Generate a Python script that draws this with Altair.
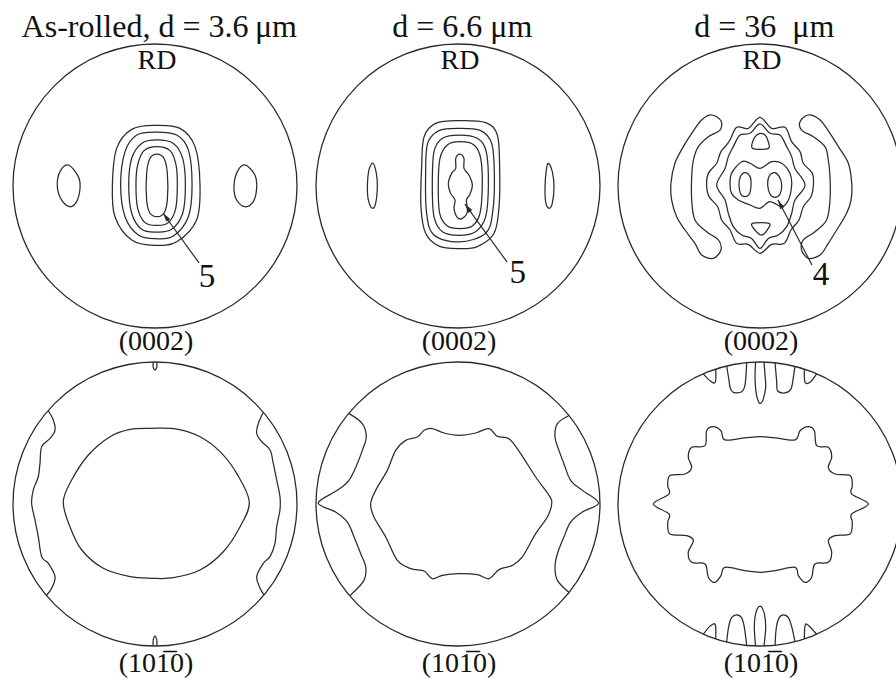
import math
import altair as alt
import pandas as pd

# ---------- canvas layout (pixels) ----------
WIDTH, HEIGHT = 896, 679
RADIUS = 142                    # radius of every pole figure
COL_CENTER = [155, 458, 760]    # circle centres, x
ROW_CENTER = [186, 504]         # circle centres, y measured from the top
INK = "#2b2b2b"
SERIF = "Liberation Serif"

# ---------- iso-intensity lines, unit-circle coordinates (u to the right, v towards RD) ----------
# (0002), as-rolled
P1_RING1 = [(0.000, 0.427), (0.176, 0.406), (0.282, 0.277), (0.317, 0.007), (0.293, -0.239), (0.153, -0.392),
            (0.000, -0.418), (-0.164, -0.380), (-0.282, -0.216), (-0.300, 0.007), (-0.270, 0.265), (-0.164, 0.399)]
P1_RING2 = [(0.007, 0.380), (0.153, 0.359), (0.235, 0.254), (0.261, 0.007), (0.235, -0.216), (0.129, -0.352),
            (0.007, -0.371), (-0.117, -0.345), (-0.211, -0.216), (-0.242, 0.007), (-0.211, 0.242), (-0.129, 0.359)]
P1_RING3 = [(0.012, 0.324), (0.129, 0.300), (0.195, 0.195), (0.214, 0.007), (0.195, -0.192), (0.117, -0.305),
            (0.012, -0.324), (-0.094, -0.305), (-0.164, -0.192), (-0.185, 0.007), (-0.164, 0.195), (-0.094, 0.300)]
P1_RING4 = [(0.012, 0.277), (0.106, 0.249), (0.148, 0.148), (0.157, 0.007), (0.146, -0.157), (0.094, -0.258),
            (0.012, -0.277), (-0.070, -0.258), (-0.122, -0.157), (-0.134, 0.007), (-0.122, 0.148), (-0.077, 0.249)]
P1_CORE = [(0.012, 0.225), (0.063, 0.195), (0.087, 0.089), (0.087, -0.099), (0.063, -0.192), (0.016, -0.216),
           (-0.035, -0.192), (-0.059, -0.099), (-0.059, 0.089), (-0.035, 0.195)]
P1_LEFT = [(-0.610, 0.148), (-0.540, 0.066), (-0.528, -0.016), (-0.552, -0.110), (-0.599, -0.146),
           (-0.657, -0.099), (-0.688, -0.005), (-0.669, 0.101)]
P1_RIGHT = [(0.634, 0.148), (0.704, 0.077), (0.716, -0.016), (0.692, -0.110), (0.634, -0.146),
            (0.575, -0.099), (0.556, -0.005), (0.580, 0.101)]

# (0002), d = 6.6 um
P2_RING1 = [(0.007, 0.460), (0.195, 0.446), (0.277, 0.359), (0.293, 0.136), (0.289, -0.146), (0.254, -0.333),
            (0.136, -0.427), (0.007, -0.441), (-0.134, -0.423), (-0.228, -0.333), (-0.261, -0.146),
            (-0.256, 0.136), (-0.239, 0.347), (-0.157, 0.441)]
P2_RING2 = [(0.007, 0.406), (0.160, 0.390), (0.237, 0.300), (0.256, 0.089), (0.246, -0.169), (0.195, -0.333),
            (0.007, -0.394), (-0.169, -0.345), (-0.221, -0.192), (-0.228, 0.089), (-0.214, 0.300), (-0.134, 0.390)]
P2_RING3 = [(0.007, 0.359), (0.136, 0.336), (0.199, 0.242), (0.214, 0.007), (0.195, -0.216), (0.124, -0.322),
            (0.007, -0.347), (-0.110, -0.322), (-0.169, -0.216), (-0.181, 0.007), (-0.169, 0.242), (-0.110, 0.336)]
P2_RING4 = [(0.012, 0.312), (0.113, 0.289), (0.160, 0.195), (0.171, 0.007), (0.155, -0.192), (0.101, -0.282),
            (0.012, -0.300), (-0.075, -0.282), (-0.129, -0.192), (-0.139, 0.007), (-0.127, 0.195), (-0.075, 0.289)]
P2_CORE = [(0.012, 0.225), (0.042, 0.195), (0.042, 0.124), (0.077, 0.077), (0.101, 0.007), (0.082, -0.063),
           (0.059, -0.099), (0.066, -0.181), (0.031, -0.228), (-0.005, -0.221), (-0.028, -0.157),
           (-0.021, -0.099), (-0.052, -0.052), (-0.068, 0.019), (-0.045, 0.089), (-0.016, 0.124), (-0.016, 0.195)]
P2_LEFT = [(-0.599, 0.160), (-0.575, 0.089), (-0.568, -0.005), (-0.580, -0.122), (-0.603, -0.157),
           (-0.631, -0.099), (-0.638, -0.005), (-0.627, 0.113)]
P2_RIGHT = [(0.636, 0.160), (0.664, 0.101), (0.676, -0.005), (0.664, -0.122), (0.641, -0.157),
            (0.617, -0.110), (0.613, -0.005), (0.622, 0.113)]

# (0002), d = 36 um
P3_LEFT_ARC = [(-0.340, 0.500), (-0.275, 0.460), (-0.282, 0.394), (-0.364, 0.347), (-0.434, 0.277),
               (-0.469, 0.183), (-0.481, 0.066), (-0.481, -0.099), (-0.458, -0.239), (-0.376, -0.322),
               (-0.293, -0.380), (-0.275, -0.451), (-0.329, -0.509), (-0.411, -0.486), (-0.458, -0.404),
               (-0.528, -0.310), (-0.587, -0.216), (-0.622, -0.099), (-0.627, 0.019), (-0.599, 0.160),
               (-0.540, 0.277), (-0.481, 0.371), (-0.411, 0.465)]
P3_RIGHT_ARC = [(0.340, 0.500), (0.282, 0.453), (0.293, 0.394), (0.376, 0.347), (0.458, 0.277),
                (0.481, 0.183), (0.493, 0.066), (0.493, -0.099), (0.469, -0.239), (0.387, -0.322),
                (0.305, -0.380), (0.293, -0.451), (0.340, -0.509), (0.423, -0.486), (0.481, -0.404),
                (0.540, -0.310), (0.610, -0.192), (0.641, -0.099), (0.646, 0.019), (0.622, 0.160),
                (0.552, 0.277), (0.493, 0.371), (0.423, 0.465)]
P3_OUTER = [(0.000, 0.484), (0.082, 0.406), (0.176, 0.413), (0.223, 0.312), (0.282, 0.242), (0.305, 0.160),
            (0.369, 0.089), (0.376, 0.007), (0.359, -0.075), (0.305, -0.146), (0.275, -0.239), (0.218, -0.310),
            (0.171, -0.404), (0.082, -0.411), (0.000, -0.474), (-0.082, -0.411), (-0.164, -0.404),
            (-0.211, -0.310), (-0.270, -0.239), (-0.298, -0.146), (-0.359, -0.075), (-0.376, 0.007),
            (-0.364, 0.089), (-0.305, 0.160), (-0.275, 0.242), (-0.218, 0.312), (-0.164, 0.413), (-0.082, 0.406)]
P3_INNER = [(0.000, 0.437), (0.070, 0.371), (0.141, 0.359), (0.188, 0.277), (0.223, 0.207), (0.246, 0.124),
            (0.317, 0.007), (0.246, -0.099), (0.223, -0.192), (0.188, -0.286), (0.129, -0.345), (0.059, -0.369),
            (0.000, -0.439), (-0.059, -0.369), (-0.129, -0.345), (-0.188, -0.286), (-0.223, -0.192),
            (-0.246, -0.099), (-0.305, 0.007), (-0.246, 0.124), (-0.223, 0.207), (-0.188, 0.277),
            (-0.141, 0.359), (-0.070, 0.371)]
P3_TOP_CAP = [(-0.052, 0.265), (-0.047, 0.324), (-0.023, 0.359), (0.005, 0.371), (0.035, 0.359),
              (0.054, 0.324), (0.059, 0.265)]
P3_BOTTOM_CAP = [(-0.054, -0.263), (0.063, -0.263), (0.054, -0.305), (0.012, -0.345), (-0.035, -0.310)]
P3_MIDDLE = [(-0.200, 0.089), (-0.129, 0.171), (-0.070, 0.160), (0.000, 0.124), (0.082, 0.171), (0.153, 0.160),
             (0.211, 0.089), (0.223, 0.007), (0.200, -0.099), (0.153, -0.146), (0.070, -0.110), (0.000, -0.157),
             (-0.070, -0.134), (-0.153, -0.099), (-0.200, -0.052), (-0.211, 0.007)]
P3_HOLE_L = [(-0.106, 0.094), (-0.070, 0.066), (-0.063, 0.007), (-0.075, -0.056), (-0.106, -0.075),
             (-0.136, -0.056), (-0.148, 0.007), (-0.138, 0.066)]
P3_HOLE_R = [(0.101, 0.094), (0.136, 0.066), (0.153, 0.007), (0.141, -0.056), (0.106, -0.080),
             (0.070, -0.056), (0.054, 0.007), (0.063, 0.066)]

# (10-10), as-rolled
P4_CENTRE = [(-0.023, 0.533), (0.153, 0.528), (0.317, 0.474), (0.458, 0.369), (0.575, 0.216), (0.664, 0.016),
             (0.599, -0.160), (0.481, -0.336), (0.317, -0.465), (0.129, -0.519), (-0.023, -0.523),
             (-0.176, -0.512), (-0.364, -0.453), (-0.516, -0.324), (-0.599, -0.160), (-0.646, 0.016),
             (-0.587, 0.169), (-0.469, 0.345), (-0.317, 0.474), (-0.176, 0.526)]
P4_EDGE_L = [(-0.751, 0.655), (-0.716, 0.592), (-0.704, 0.521), (-0.739, 0.462), (-0.798, 0.404),
             (-0.810, 0.286), (-0.822, 0.192), (-0.857, 0.099), (-0.869, 0.005), (-0.845, -0.113),
             (-0.822, -0.230), (-0.798, -0.371), (-0.751, -0.418), (-0.704, -0.512), (-0.728, -0.594),
             (-0.765, -0.644)]
P4_EDGE_R = [(0.763, 0.646), (0.728, 0.568), (0.716, 0.498), (0.751, 0.439), (0.810, 0.380), (0.833, 0.286),
             (0.857, 0.169), (0.880, 0.052), (0.880, -0.042), (0.857, -0.160), (0.845, -0.277), (0.810, -0.371),
             (0.763, -0.418), (0.716, -0.512), (0.740, -0.594), (0.768, -0.640)]
P4_TAB_TOP = [(-0.012, 1.000), (-0.013, 0.965), (0.000, 0.944), (0.013, 0.965), (0.012, 1.000)]
P4_TAB_BOTTOM = [(-0.012, -1.000), (-0.013, -0.960), (0.000, -0.930), (0.013, -0.960), (0.012, -1.000)]

# (10-10), d = 6.6 um
P5_CENTRE = [(-0.181, 0.531), (-0.099, 0.500), (0.007, 0.484), (0.124, 0.500), (0.218, 0.531), (0.277, 0.477),
             (0.359, 0.460), (0.434, 0.366), (0.547, 0.190), (0.641, 0.061), (0.660, 0.002), (0.629, -0.092),
             (0.547, -0.209), (0.453, -0.373), (0.383, -0.432), (0.289, -0.462), (0.218, -0.526),
             (0.136, -0.498), (0.007, -0.491), (-0.110, -0.502), (-0.181, -0.526), (-0.239, -0.472),
             (-0.333, -0.455), (-0.427, -0.397), (-0.509, -0.232), (-0.592, -0.092), (-0.615, 0.002),
             (-0.580, 0.096), (-0.498, 0.237), (-0.439, 0.378), (-0.369, 0.448), (-0.286, 0.472), (-0.239, 0.519)]
P5_EDGE_L = [(-0.770, 0.638), (-0.674, 0.566), (-0.646, 0.472), (-0.674, 0.378), (-0.709, 0.284),
             (-0.768, 0.167), (-0.850, 0.096), (-0.985, 0.007), (-0.862, -0.056), (-0.779, -0.127),
             (-0.732, -0.232), (-0.685, -0.350), (-0.650, -0.444), (-0.662, -0.538), (-0.760, -0.645)]
P5_EDGE_R = [(0.782, 0.623), (0.700, 0.566), (0.683, 0.472), (0.711, 0.378), (0.746, 0.284), (0.793, 0.167),
             (0.876, 0.096), (0.990, 0.007), (0.876, -0.056), (0.793, -0.127), (0.746, -0.232),
             (0.700, -0.350), (0.683, -0.444), (0.700, -0.538), (0.782, -0.623)]

# (10-10), d = 36 um
P6_CENTRE = [(0.000, 0.474), (0.106, 0.465), (0.246, 0.451), (0.282, 0.516), (0.340, 0.545), (0.383, 0.516),
             (0.399, 0.411), (0.481, 0.399), (0.505, 0.329), (0.481, 0.258), (0.528, 0.211), (0.634, 0.200),
             (0.650, 0.129), (0.646, 0.070), (0.763, 0.000), (0.646, -0.070), (0.650, -0.129), (0.634, -0.211),
             (0.528, -0.223), (0.481, -0.258), (0.505, -0.340), (0.481, -0.411), (0.387, -0.423),
             (0.364, -0.516), (0.317, -0.552), (0.270, -0.505), (0.246, -0.446), (0.106, -0.469),
             (0.000, -0.481), (-0.106, -0.469), (-0.246, -0.446), (-0.275, -0.505), (-0.317, -0.552),
             (-0.364, -0.516), (-0.387, -0.423), (-0.481, -0.411), (-0.505, -0.340), (-0.469, -0.258),
             (-0.516, -0.223), (-0.634, -0.211), (-0.650, -0.129), (-0.641, -0.070), (-0.751, 0.000),
             (-0.641, 0.070), (-0.650, 0.129), (-0.634, 0.200), (-0.528, 0.211), (-0.481, 0.258),
             (-0.505, 0.329), (-0.481, 0.399), (-0.387, 0.411), (-0.376, 0.516), (-0.329, 0.545),
             (-0.275, 0.516), (-0.246, 0.451), (-0.106, 0.465)]
P6_TOP_1 = [(-0.399, 0.917), (-0.352, 0.868), (-0.315, 0.857), (-0.312, 0.950)]
P6_TOP_2 = [(-0.235, 0.972), (-0.218, 0.870), (-0.211, 0.822), (-0.188, 0.786), (-0.129, 0.791),
            (-0.105, 0.840), (-0.094, 0.996)]
P6_TOP_3 = [(-0.031, 1.000), (-0.035, 0.892), (-0.028, 0.786), (-0.012, 0.723), (0.005, 0.709),
            (0.023, 0.739), (0.040, 0.822), (0.035, 0.915), (0.028, 1.000)]
P6_TOP_4 = [(0.106, 0.994), (0.117, 0.869), (0.124, 0.798), (0.176, 0.782), (0.218, 0.810), (0.235, 0.892),
            (0.246, 0.969)]
P6_TOP_5 = [(0.312, 0.950), (0.317, 0.857), (0.352, 0.857), (0.399, 0.917)]
P6_BOT_1 = [(-0.399, -0.917), (-0.352, -0.860), (-0.315, -0.850), (-0.312, -0.950)]
P6_BOT_2 = [(-0.235, -0.972), (-0.220, -0.860), (-0.200, -0.800), (-0.165, -0.780), (-0.130, -0.800),
            (-0.110, -0.870), (-0.094, -0.996)]
P6_BOT_3 = [(-0.031, -1.000), (-0.040, -0.870), (-0.030, -0.770), (0.000, -0.720), (0.030, -0.770),
            (0.040, -0.870), (0.028, -1.000)]
P6_BOT_4 = [(0.106, -0.994), (0.115, -0.870), (0.135, -0.800), (0.165, -0.780), (0.200, -0.800),
            (0.225, -0.870), (0.246, -0.969)]
P6_BOT_5 = [(0.312, -0.950), (0.317, -0.860), (0.335, -0.850), (0.399, -0.917)]

# (panel, closed line?, points)
CONTOURS = [
    (0, True, P1_RING1), (0, True, P1_RING2), (0, True, P1_RING3), (0, True, P1_RING4), (0, True, P1_CORE),
    (0, True, P1_LEFT), (0, True, P1_RIGHT),
    (1, True, P2_RING1), (1, True, P2_RING2), (1, True, P2_RING3), (1, True, P2_RING4), (1, True, P2_CORE),
    (1, True, P2_LEFT), (1, True, P2_RIGHT),
    (2, True, P3_LEFT_ARC), (2, True, P3_RIGHT_ARC), (2, True, P3_OUTER), (2, True, P3_INNER),
    (2, True, P3_TOP_CAP), (2, True, P3_BOTTOM_CAP), (2, True, P3_MIDDLE), (2, True, P3_HOLE_L),
    (2, True, P3_HOLE_R),
    (3, True, P4_CENTRE), (3, False, P4_EDGE_L), (3, False, P4_EDGE_R), (3, False, P4_TAB_TOP),
    (3, False, P4_TAB_BOTTOM),
    (4, True, P5_CENTRE), (4, False, P5_EDGE_L), (4, False, P5_EDGE_R),
    (5, True, P6_CENTRE), (5, False, P6_TOP_1), (5, False, P6_TOP_2), (5, False, P6_TOP_3),
    (5, False, P6_TOP_4), (5, False, P6_TOP_5), (5, False, P6_BOT_1), (5, False, P6_BOT_2),
    (5, False, P6_BOT_3), (5, False, P6_BOT_4), (5, False, P6_BOT_5),
]

# ---------- texts ----------
TITLES = ["As-rolled, d = 3.6\u2009\u03bcm", "d = 6.6 \u03bcm", "d = 36\u00a0 \u03bcm"]
POLE_LABELS = ["(0002)", "(0002)", "(0002)", "(101\u03050)", "(101\u03050)", "(10\u03051\u03050)"]
POLE_LABELS = ["(0002)"] * 3 + ["(10" + "1\u0305" + "0)"] * 3
PEAK_LABELS = ["5", "5", "4"]
# arrow tail (near the number) and tip (on the strongest line), unit-circle coordinates
ARROW_TAIL = [(0.310, -0.542), (0.345, -0.535), (0.366, -0.556)]
ARROW_TIP = [(0.056, -0.190), (0.049, -0.127), (0.127, -0.099)]
PEAK_LABEL_POS = [(0.366, -0.711), (0.420, -0.683), (0.430, -0.697)]


def place(panel, u, v):
    """Unit-circle coordinates of one pole figure -> shared plotting units (1 unit = RADIUS px)."""
    col, row = panel % 3, panel // 3
    x = (COL_CENTER[col] + u * RADIUS) / RADIUS
    y = (HEIGHT - ROW_CENTER[row] + v * RADIUS) / RADIUS
    return x, y


line_rows = []
for cid, (panel, closed, pts) in enumerate(CONTOURS):
    for i, (u, v) in enumerate(pts):
        x, y = place(panel, u, v)
        line_rows.append({"cid": cid, "closed": closed, "idx": i, "x": x, "y": y})
lines = pd.DataFrame(line_rows)
closed_lines = lines[lines["closed"]]
open_lines = lines[~lines["closed"]]

circles = pd.DataFrame([dict(zip(("x", "y"), place(p, 0, 0))) for p in range(6)])

text_rows = []
for p in range(3):
    text_rows.append({**dict(zip(("x", "y"), place(p, 0.03, 1.049))), "text": TITLES[p], "fs": 32})
    text_rows.append({**dict(zip(("x", "y"), place(p, 0.014, 0.824))), "text": "RD", "fs": 28})
    text_rows.append({**dict(zip(("x", "y"), place(p, *PEAK_LABEL_POS[p]))), "text": PEAK_LABELS[p], "fs": 33})
for p in range(6):
    v = -1.155 if p < 3 else -1.183
    text_rows.append({**dict(zip(("x", "y"), place(p, 0.007, v))), "text": POLE_LABELS[p], "fs": 28})
texts = pd.DataFrame(text_rows)

arrow_rows = []
for p in range(3):
    x0, y0 = place(p, *ARROW_TAIL[p])
    x1, y1 = place(p, *ARROW_TIP[p])
    ang = math.degrees(math.atan2(x1 - x0, y1 - y0)) % 360
    arrow_rows.append({"x0": x0, "y0": y0, "x": x1, "y": y1, "ang": ang})
arrows = pd.DataFrame(arrow_rows)

X = alt.X("x:Q", scale=alt.Scale(domain=[0, WIDTH / RADIUS], nice=False, zero=False), axis=None)
Y = alt.Y("y:Q", scale=alt.Scale(domain=[0, HEIGHT / RADIUS], nice=False, zero=False), axis=None)

circle_layer = alt.Chart(circles).mark_point(
    shape="circle", size=(2 * RADIUS) ** 2, filled=False, stroke=INK, strokeWidth=1.3, opacity=1
).encode(x=X, y=Y)

closed_layer = alt.Chart(closed_lines).mark_line(
    interpolate="cardinal-closed", color=INK, strokeWidth=1.25
).encode(x=X, y=Y, detail="cid:N", order="idx:Q")

open_layer = alt.Chart(open_lines).mark_line(
    interpolate="cardinal", color=INK, strokeWidth=1.25
).encode(x=X, y=Y, detail="cid:N", order="idx:Q")

arrow_shaft = alt.Chart(arrows).mark_rule(color=INK, strokeWidth=1.2).encode(
    x=X, y=Y, x2="x0:Q", y2="y0:Q"
)
arrow_head = alt.Chart(arrows).mark_point(
    shape="M0,0L-0.6,2.3L0.6,2.3Z", size=64, filled=True, color=INK, opacity=1
).encode(x=X, y=Y, angle=alt.Angle("ang:Q", scale=None))

text_layer = alt.Chart(texts).mark_text(
    font=SERIF, align="center", baseline="alphabetic", color="#111111"
).encode(x=X, y=Y, text="text:N", size=alt.Size("fs:Q", scale=None))

chart = alt.layer(
    circle_layer, closed_layer, open_layer, arrow_shaft, arrow_head, text_layer
).properties(
    width=WIDTH, height=HEIGHT, padding=0, autosize=alt.AutoSizeParams(type="none")
).configure_view(stroke=None)

chart.save("out.html", embed_options={"renderer": "svg", "actions": False})
